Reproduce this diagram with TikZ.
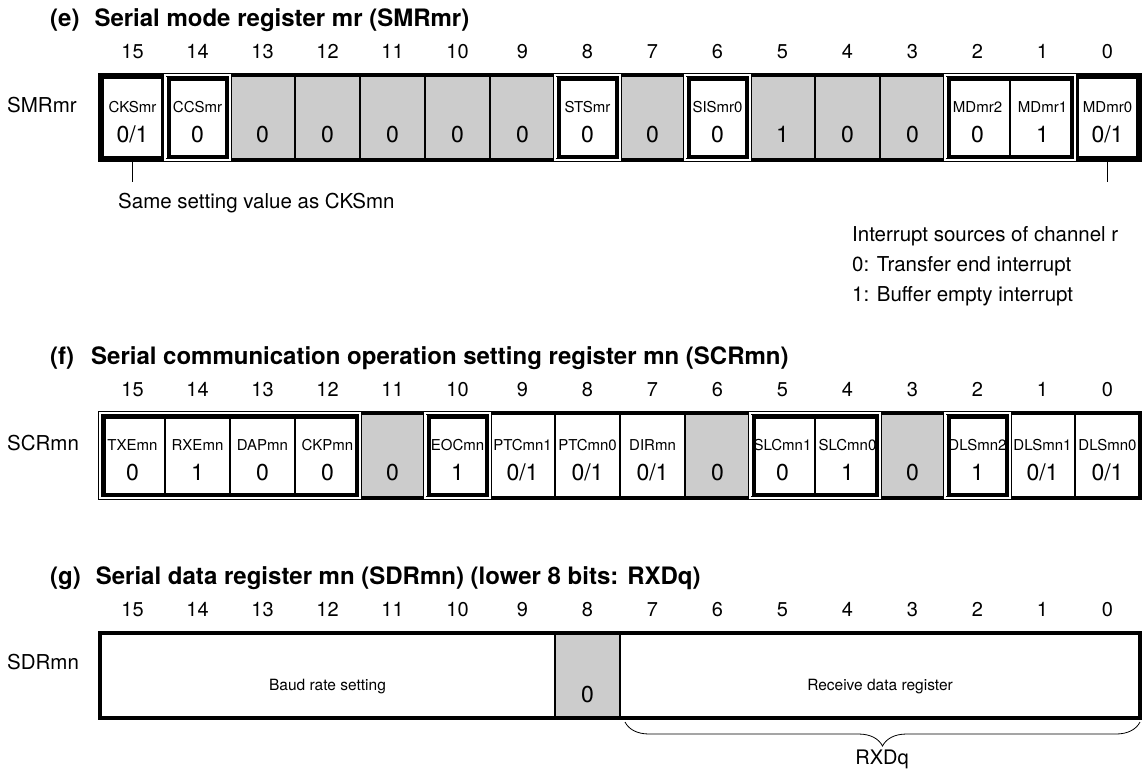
\documentclass[tikz,border=0pt]{standalone}
\usepackage{fontspec}
\setmainfont{TeX Gyre Heros}
\usepackage{tikz}
\usetikzlibrary{positioning,calc,decorations.pathreplacing}
\definecolor{resgray}{HTML}{CCCCCC}
\newcommand{\dblframe}[2]{%
  \draw[white, line width=2.5pt] (#1.north west) rectangle (#2.south east);
  \draw[line width=1pt] ($(#1.north west)+(-1.5,-1.5)$) rectangle ($(#2.south east)+(1.5,1.5)$);
  \draw[line width=4pt] ($(#1.north west)+(3.5,3.5)$) rectangle ($(#2.south east)+(-3.5,-3.5)$);}
\newcommand{\thkframe}[1]{%
  \draw[line width=4pt] ($(#1.north west)+(2,2)$) rectangle ($(#1.south east)+(-2,-2)$);}

\begin{document}
\begin{tikzpicture}[x=1pt, y=-1pt,
  cell/.style={draw, line width=1.2pt, minimum width=65pt, minimum height=85pt, inner sep=0pt, outer sep=0pt},
  fname/.style={font=\fontsize{15}{15}\selectfont, anchor=base, inner sep=0pt},
  fval/.style={font=\fontsize{23}{23}\selectfont, anchor=base, inner sep=0pt},
  bitno/.style={font=\fontsize{20}{20}\selectfont, anchor=base, inner sep=0pt},
  regtitle/.style={font=\fontsize{24}{24}\selectfont\bfseries, anchor=base west, inner sep=0pt},
  annot/.style={font=\fontsize{20.5}{20.5}\selectfont, anchor=base west, inner sep=0pt},
  small/.style={font=\fontsize{15.5}{15.5}\selectfont, anchor=base, inner sep=0pt}]
\useasboundingbox (0,0) rectangle (1142,769);

% (e) SMRmr
\node[regtitle] (te) at (50,26) {(e)\hspace{15pt}Serial mode register mr (SMRmr)};
\node[annot] (smr) at (7,112) {SMRmr};
\foreach \b/\nm/\v/\col in {15/CKSmr/{0/1}/white,14/CCSmr/0/white,13//0/resgray,12//0/resgray,11//0/resgray,10//0/resgray,9//0/resgray,8/STSmr/0/white,7//0/resgray,6/SISmr0/0/white,5//1/resgray,4//0/resgray,3//0/resgray,2/MDmr2/0/white,1/MDmr1/1/white,0/MDmr0/{0/1}/white}{
  \node[cell, fill=\col] (e\b) at ({132.5+(15-\b)*65},117.5) {};
  \node[fname] (en\b) at ($(e\b.center)+(0,-5.5)$) {\nm};
  \node[fval] (ev\b) at ($(e\b.center)+(0,24.5)$) {\v};
  \node[bitno] (eb\b) at ($(e\b.center)+(0,-59.5)$) {\b};
}
\draw[line width=4pt] (e15.north west) rectangle (e0.south east);
\thkframe{e15}
\thkframe{e0}
\dblframe{e14}{e14}
\dblframe{e8}{e8}
\dblframe{e6}{e6}
\dblframe{e2}{e1}
\draw[line width=1.2pt] (e15.south) -- ++(0,22);
\draw[line width=1.2pt] (e0.south) -- ++(0,22);
\node[annot] (same) at (118,208) {Same setting value as CKSmn};
\node[annot] (irq) at (852,241) {Interrupt sources of channel r};
\node[annot] (irq0) at (852,271) {0: Transfer end interrupt};
\node[annot] (irq1) at (852,301) {1: Buffer empty interrupt};

% (f) SCRmn
\node[regtitle] (tf) at (50,364) {(f)\hspace{17pt}Serial communication operation setting register mn (SCRmn)};
\node[annot] (scr) at (7,450) {SCRmn};
\foreach \b/\nm/\v/\col in {15/TXEmn/0/white,14/RXEmn/1/white,13/DAPmn/0/white,12/CKPmn/0/white,11//0/resgray,10/EOCmn/1/white,9/PTCmn1/{0/1}/white,8/PTCmn0/{0/1}/white,7/DIRmn/{0/1}/white,6//0/resgray,5/SLCmn1/0/white,4/SLCmn0/1/white,3//0/resgray,2/DLSmn2/1/white,1/DLSmn1/{0/1}/white,0/DLSmn0/{0/1}/white}{
  \node[cell, fill=\col] (f\b) at ({132.5+(15-\b)*65},455.5) {};
  \node[fname] (fn\b) at ($(f\b.center)+(0,-5.5)$) {\nm};
  \node[fval] (fv\b) at ($(f\b.center)+(0,24.5)$) {\v};
  \node[bitno] (fb\b) at ($(f\b.center)+(0,-59.5)$) {\b};
}
\draw[line width=4pt] (f15.north west) rectangle (f0.south east);
\dblframe{f15}{f12}
\dblframe{f10}{f10}
\dblframe{f5}{f4}
\dblframe{f2}{f2}

% (g) SDRmn
\node[regtitle] (tg) at (50,584) {(g)\hspace{15pt}Serial data register mn (SDRmn) (lower 8 bits: RXDq)};
\node[annot] (sdr) at (7,669) {SDRmn};
\foreach \b in {15,...,0}{
  \node[bitno] (gb\b) at ({132.5+(15-\b)*65},616) {\b};
}
\node[cell, minimum width=455pt] (gbaud) at (327.5,675.5) {};
\node[cell, fill=resgray] (g8) at (587.5,675.5) {};
\node[cell, minimum width=520pt] (grecv) at (880,675.5) {};
\draw[line width=4pt] (gbaud.north west) rectangle (grecv.south east);
\node[small] (baud) at ($(gbaud.center)+(0,14.5)$) {Baud rate setting};
\node[fval] (gv8) at ($(g8.center)+(0,26.5)$) {0};
\node[small] (recv) at ($(grecv.center)+(0,14.5)$) {Receive data register};
\draw[line width=0.8pt, decorate, decoration={brace, mirror, amplitude=24pt}] ($(grecv.south west)+(5,4)$) -- ($(grecv.south east)+(0,4)$);
\node[bitno] (rxdq) at (882,764) {RXDq};
\end{tikzpicture}
\end{document}
